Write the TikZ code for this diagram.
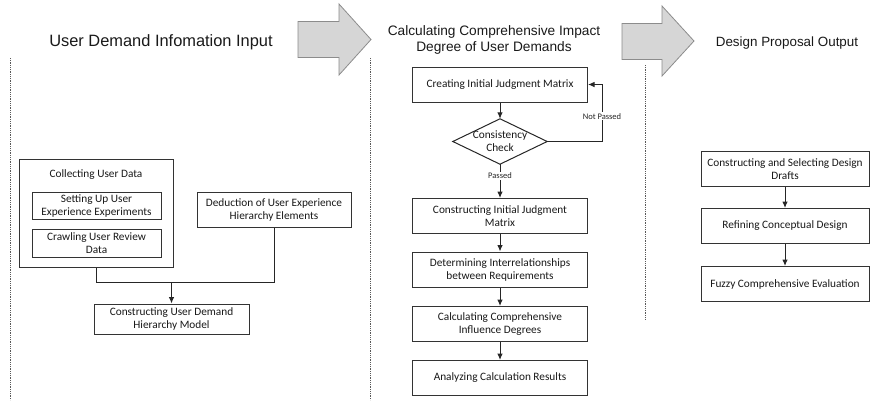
\documentclass[tikz,border=0pt]{standalone}
\usepackage{fontspec}
\setmainfont{Carlito}
\newfontfamily\headfont{Liberation Sans}
\usetikzlibrary{arrows.meta}
\pgfdeclarelayer{edgelayer}
\pgfdeclarelayer{nodelayer}
\pgfsetlayers{edgelayer,nodelayer,main}
\tikzstyle{process}=[rectangle,draw=black!80,line width=1pt,fill=white,minimum width=175pt,minimum height=35pt,inner sep=1pt,align=center,text=black!90,font=\fontsize{11.3}{13}\selectfont]
\tikzstyle{sub_box}=[process,minimum width=129pt,minimum height=27pt]
\tikzstyle{group_box}=[rectangle,draw=black!80,line width=1pt,minimum width=154pt,minimum height=108pt]
\tikzstyle{decision}=[rectangle,minimum width=94pt,minimum height=45pt,inner sep=0pt,align=center,text=black!90,font=\fontsize{11.3}{13}\selectfont]
\tikzstyle{flow}=[-{Latex[length=6.5pt,width=5.5pt]},draw=black!85,line width=1pt]
\tikzstyle{link}=[draw=black!85,line width=1pt]
\tikzstyle{edge_label}=[fill=white,inner sep=1pt,text=black!85,font=\fontsize{8.5}{10}\selectfont]
\tikzstyle{heading}=[align=center,text=black!90,font=\headfont\fontsize{13.7}{16}\selectfont]
\tikzstyle{big_arrow}=[fill=black!16,draw=black!45,line width=0.8pt,line join=miter]
\tikzstyle{lane}=[draw=black!65,line width=1pt,dash pattern=on 1pt off 0.8pt]

\begin{document}
\begin{tikzpicture}[x=1pt,y=-1pt]
	\useasboundingbox (0,0) rectangle (870,400);
	\begin{pgfonlayer}{nodelayer}
		% headings
		\node [style=heading,font=\headfont\fontsize{16.4}{18}\selectfont] (head1) at (161,42) {User Demand Infomation Input};
		\node [style=heading] (head2) at (494,40) {Calculating Comprehensive Impact\\Degree of User Demands};
		\node [style=heading,font=\headfont\fontsize{13.4}{16}\selectfont] (head3) at (787,43) {Design Proposal Output};
		% input column
		\node [style={group_box}] (collect) at (96,213) {};
		\node [text=black!90,font=\fontsize{11.3}{13}\selectfont] (collecttitle) at (96,175) {Collecting User Data};
		\node [style={sub_box}] (experiment) at (96.5,205.5) {Setting Up User\\Experience Experiments};
		\node [style={sub_box},minimum height=28pt] (crawl) at (96.5,243) {Crawling User Review\\Data};
		\node [style=process,minimum width=154pt] (deduct) at (274,209.5) {Deduction of User Experience\\Hierarchy Elements};
		\node [style=process,minimum width=155pt,minimum height=30pt] (model) at (171.5,319) {Constructing User Demand\\Hierarchy Model};
		% impact column
		\node [style=process] (initial) at (500,84.5) {Creating Initial Judgment Matrix};
		\node [style=decision] (check) at (500,141.5) {Consistency\\Check};
		\node [style=process] (build) at (500,216) {Constructing Initial Judgment\\Matrix};
		\node [style=process] (relate) at (500,269.5) {Determining Interrelationships\\between Requirements};
		\node [style=process] (degree) at (500,324) {Calculating Comprehensive\\Influence Degrees};
		\node [style=process] (analyse) at (500,378) {Analyzing Calculation Results};
		% output column
		\node [style=process,minimum width=168pt] (draft) at (785,169) {Constructing and Selecting Design\\Drafts};
		\node [style=process,minimum width=168pt] (refine) at (785,226) {Refining Conceptual Design};
		\node [style=process,minimum width=168pt] (fuzzy) at (785,284) {Fuzzy Comprehensive Evaluation};
	\end{pgfonlayer}
	\begin{pgfonlayer}{edgelayer}
		% lanes and stage arrows
		\draw [style=lane] (10,58) -- (10,400);
		\draw [style=lane] (370,58) -- (370,400);
		\draw [style=lane] (645,65) -- (645,320);
		\draw [style={big_arrow}] (298,21.5) -- (339,21.5) -- (339,4) -- (371,39.5) -- (339,75) -- (339,57.5) -- (298,57.5) -- cycle;
		\draw [style={big_arrow}] (622,23.5) -- (662,23.5) -- (662,6) -- (694,41) -- (662,76) -- (662,59.5) -- (622,59.5) -- cycle;
		% input column
		\coordinate (join) at (171.5,282);
		\draw [style=link] (collect.south) |- (join);
		\draw [style=link] (join) -| (deduct.south);
		\draw [style=flow] (join) -- (model);
		% impact column
		\draw [style=link,fill=white] (check.west) -- (check.north) -- (check.east) -- (check.south) -- cycle;
		\draw [style=flow] (initial) -- (check.north);
		\coordinate (retry) at (602,141.5);
		\draw [style=flow] (check.east) -- (retry) |- node[style={edge_label},pos=0.22]{Not Passed} (initial.east);
		\draw [style=flow] (check.south) -- node[style={edge_label},pos=0.35]{Passed} (build);
		\draw [style=flow] (build) -- (relate);
		\draw [style=flow] (relate) -- (degree);
		\draw [style=flow] (degree) -- (analyse);
		% output column
		\draw [style=flow] (draft) -- (refine);
		\draw [style=flow] (refine) -- (fuzzy);
	\end{pgfonlayer}
\end{tikzpicture}
\end{document}
